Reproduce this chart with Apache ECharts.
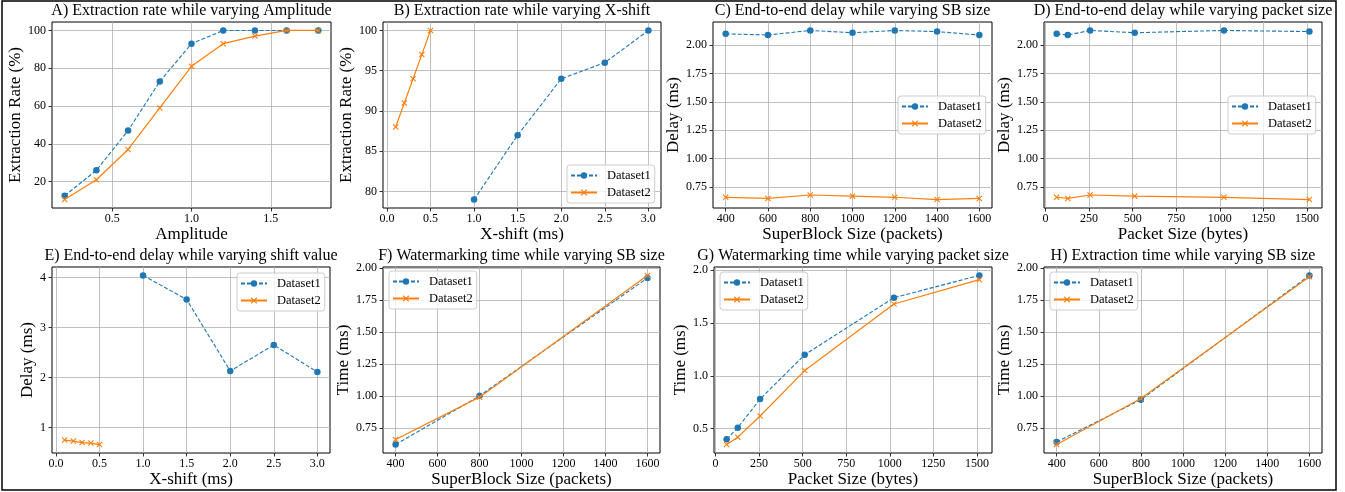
<!DOCTYPE html>
<html>
<head>
<meta charset="utf-8">
<script src="https://cdn.jsdelivr.net/npm/echarts@6/dist/echarts.min.js"></script>
<style>
html, body { margin: 0; padding: 0; background: #fff; }
#main { width: 1345px; height: 492px; }
</style>
</head>
<body>
<div id="main"></div>
<script>
// A) extraction rate vs amplitude
var ampX = [0.2, 0.4, 0.6, 0.8, 1.0, 1.2, 1.4, 1.6, 1.8];
var ampRate1 = [12.5, 26, 47, 73, 93, 100, 100, 100, 100];
var ampRate2 = [10.5, 21, 37, 59, 81, 93, 97, 100, 100];

// shift values for dataset1 / dataset2
var shiftX1 = [1.0, 1.5, 2.0, 2.5, 3.0];
var shiftX2 = [0.1, 0.2, 0.3, 0.4, 0.5];
// B) extraction rate vs x-shift
var shiftRate1 = [79, 87, 94, 96, 100];
var shiftRate2 = [88, 91, 94, 97, 100];

// C) delay vs SB size
var sbX = [400, 600, 800, 1000, 1200, 1400, 1600];
var sbDelay1 = [2.10, 2.09, 2.13, 2.11, 2.13, 2.12, 2.09];
var sbDelay2 = [0.66, 0.65, 0.68, 0.67, 0.66, 0.64, 0.65];

// D) delay vs packet size
var pktX = [64, 128, 256, 512, 1024, 1514];
var pktDelay1 = [2.10, 2.09, 2.13, 2.11, 2.13, 2.12];
var pktDelay2 = [0.66, 0.65, 0.68, 0.67, 0.66, 0.64];

// E) delay vs shift
var shiftDelay1 = [4.04, 3.56, 2.13, 2.65, 2.11];
var shiftDelay2 = [0.75, 0.73, 0.70, 0.69, 0.66];

// F) watermarking time vs SB size
var sbX3 = [400, 800, 1600];
var wmSb1 = [0.62, 1.00, 1.92];
var wmSb2 = [0.66, 0.99, 1.94];

// G) watermarking time vs packet size
var wmPkt1 = [0.40, 0.51, 0.78, 1.20, 1.74, 1.95];
var wmPkt2 = [0.35, 0.42, 0.62, 1.05, 1.68, 1.91];

// H) extraction time vs SB size
var exSb1 = [0.64, 0.97, 1.94];
var exSb2 = [0.62, 0.98, 1.93];

// tick labels
var ampTicks = [0.5, 1.0, 1.5];
var rateTicksA = [20, 40, 60, 80, 100];
var shiftTicks = [0, 0.5, 1.0, 1.5, 2.0, 2.5, 3.0];
var rateTicksB = [80, 85, 90, 95, 100];
var sbTicks = [400, 600, 800, 1000, 1200, 1400, 1600];
var pktTicks = [0, 250, 500, 750, 1000, 1250, 1500];
var msTicks = [0.75, 1.00, 1.25, 1.50, 1.75, 2.00];
var shiftDelayTicks = [1, 2, 3, 4];
var wmPktTicks = [0.5, 1.0, 1.5, 2.0];

var FONT = 'Liberation Serif';
var BLUE = '#1f77b4', ORANGE = '#ff7f0e';
var CROSS = 'path://M0,1.3L1.3,0L5,3.7L8.7,0L10,1.3L6.3,5L10,8.7L8.7,10L5,6.3L1.3,10L0,8.7L3.7,5Z';

var panels = [
  { t: 'A) Extraction rate while varying Amplitude', r: [52, 22, 279, 186], xn: 'Amplitude', yn: 'Extraction Rate (%)',
    x1: ampX, y1: ampRate1, x2: ampX, y2: ampRate2, xt: ampTicks, yt: rateTicksA, xd: 1, yd: 0, yg: 25, lg: null },
  { t: 'B) Extraction rate while varying X-shift', r: [383, 22, 278, 186], xn: 'X-shift (ms)', yn: 'Extraction Rate (%)',
    x1: shiftX1, y1: shiftRate1, x2: shiftX2, y2: shiftRate2, xt: shiftTicks, yt: rateTicksB, xd: 1, yd: 0, yg: 24, lg: [567, 165] },
  { t: 'C) End-to-end delay while varying SB size', r: [713, 22, 279, 186], xn: 'SuperBlock Size (packets)', yn: 'Delay (ms)',
    x1: sbX, y1: sbDelay1, x2: sbX, y2: sbDelay2, xt: sbTicks, yt: msTicks, xd: 0, yd: 2, yg: 28, lg: [898, 96] },
  { t: 'D) End-to-end delay while varying packet size', r: [1044, 22, 278, 186], xn: 'Packet Size (bytes)', yn: 'Delay (ms)',
    x1: pktX, y1: pktDelay1, x2: pktX, y2: pktDelay2, xt: pktTicks, yt: msTicks, xd: 0, yd: 2, yg: 29, lg: [1228, 96] },
  { t: 'E) End-to-end delay while varying shift value', r: [52, 267, 278, 186], xn: 'X-shift (ms)', yn: 'Delay (ms)',
    x1: shiftX1, y1: shiftDelay1, x2: shiftX2, y2: shiftDelay2, xt: shiftTicks, yt: shiftDelayTicks, xd: 1, yd: 0, yg: 14, lg: [237, 273] },
  { t: 'F) Watermarking time while varying SB size', r: [383, 267, 277, 186], xn: 'SuperBlock Size (packets)', yn: 'Time (ms)',
    x1: sbX3, y1: wmSb1, x2: sbX3, y2: wmSb2, xt: sbTicks, yt: msTicks, xd: 0, yd: 2, yg: 29, lg: [389, 271] },
  { t: 'G) Watermarking time while varying packet size', r: [714, 267, 278, 186], xn: 'Packet Size (bytes)', yn: 'Time (ms)',
    x1: pktX, y1: wmPkt1, x2: pktX, y2: wmPkt2, xt: pktTicks, yt: wmPktTicks, xd: 0, yd: 1, yg: 24, lg: [720, 272] },
  { t: 'H) Extraction time while varying SB size', r: [1044, 267, 278, 186], xn: 'SuperBlock Size (packets)', yn: 'Time (ms)',
    x1: sbX3, y1: exSb1, x2: sbX3, y2: exSb2, xt: sbTicks, yt: msTicks, xd: 0, yd: 2, yg: 29, lg: [1050, 272] }
];

// matplotlib style 5% margins
function pad(vals) {
  var lo = Math.min.apply(null, vals), hi = Math.max.apply(null, vals), m = (hi - lo) * 0.05;
  return [lo - m, hi + m];
}
function zip(xs, ys) {
  return xs.map(function (x, i) { return [x, ys[i]]; });
}
function axis(i, range, ticks, dec, name, gap, isX) {
  return {
    type: 'value', gridIndex: i, min: range[0], max: range[1],
    name: name, nameLocation: 'middle', nameGap: gap,
    nameTextStyle: { fontFamily: FONT, fontSize: 17, color: '#000' },
    axisLine: { show: false, onZero: false },
    axisTick: { show: true, length: 3.5, customValues: ticks, lineStyle: { color: '#000', width: 0.8 } },
    axisLabel: {
      customValues: ticks, margin: isX ? 5 : 6, fontFamily: FONT, fontSize: 12, color: '#000',
      formatter: function (v) { return v.toFixed(dec); }
    },
    splitLine: { show: true, lineStyle: { color: '#b0b0b0', width: 0.8 } }
  };
}

var option = {
  animation: false,
  title: [], grid: [], xAxis: [], yAxis: [], legend: [], series: [],
  graphic: [{
    type: 'rect', silent: true,
    shape: { x: 2, y: 1, width: 1334, height: 489 },
    style: { fill: 'none', stroke: '#000', lineWidth: 1.5 }
  }]
};

panels.forEach(function (p, i) {
  var xr = pad(p.x1.concat(p.x2)), yr = pad(p.y1.concat(p.y2));
  option.title.push({
    text: p.t, left: p.r[0] + p.r[2] / 2, top: p.r[1] - 19, textAlign: 'center', padding: 0,
    textStyle: { fontFamily: FONT, fontSize: 16, fontWeight: 'normal', color: '#000' }
  });
  option.grid.push({
    left: p.r[0], top: p.r[1], width: p.r[2], height: p.r[3],
    show: true, borderColor: '#000', borderWidth: 1, backgroundColor: 'transparent'
  });
  option.xAxis.push(axis(i, xr, p.xt, p.xd, p.xn, 15, true));
  option.yAxis.push(axis(i, yr, p.yt, p.yd, p.yn, p.yg, false));
  option.series.push({
    name: 'Dataset1', type: 'line', xAxisIndex: i, yAxisIndex: i, data: zip(p.x1, p.y1),
    symbol: 'circle', symbolSize: 6.5, itemStyle: { color: BLUE },
    lineStyle: { color: BLUE, width: 1.1, type: [4, 2] }, z: 3
  });
  option.series.push({
    name: 'Dataset2', type: 'line', xAxisIndex: i, yAxisIndex: i, data: zip(p.x2, p.y2),
    symbol: CROSS, symbolSize: 6, itemStyle: { color: ORANGE },
    lineStyle: { color: ORANGE, width: 1.2 }, z: 4
  });
  if (p.lg) {
    option.legend.push({
      left: p.lg[0], top: p.lg[1], orient: 'vertical', selectedMode: false,
      data: ['Dataset1', 'Dataset2'],
      itemWidth: 26, itemHeight: 8, itemGap: 4, padding: [4, 4, 4, 3],
      borderColor: '#cccccc', borderWidth: 1, borderRadius: 3, backgroundColor: 'rgba(255,255,255,0.8)',
      textStyle: { fontFamily: FONT, fontSize: 12.5, color: '#000', padding: [0, 0, 0, 5] }
    });
  }
});

var myChart = echarts.init(document.getElementById('main'));
myChart.setOption(option);
</script>
</body>
</html>
